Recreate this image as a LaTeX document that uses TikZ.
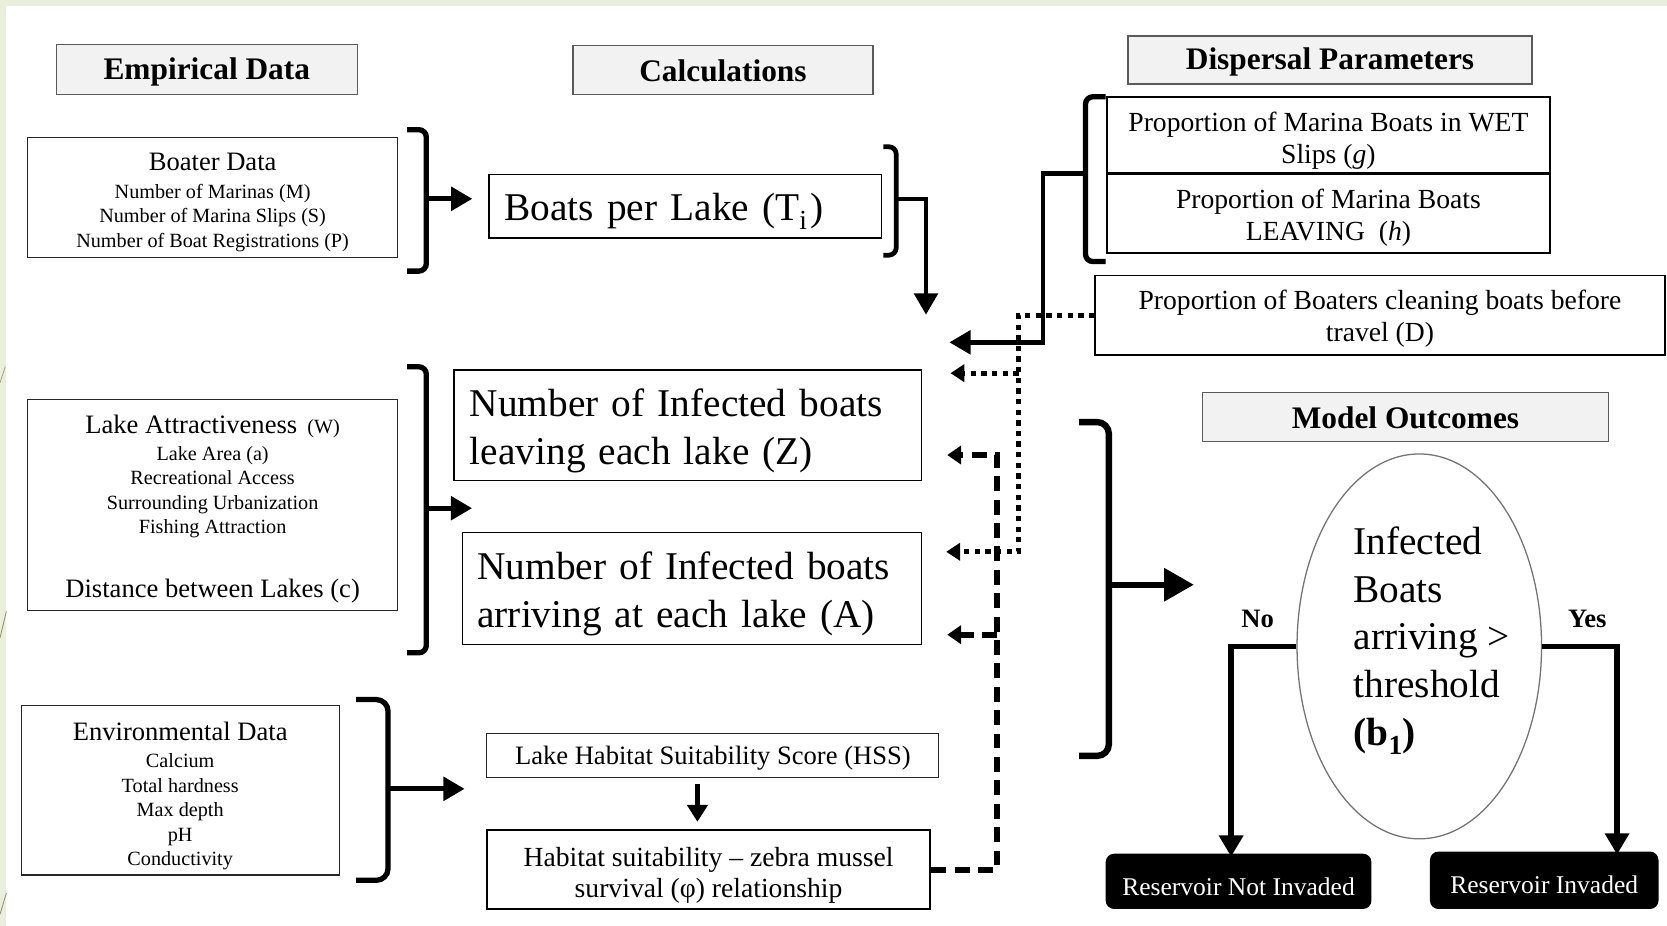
\documentclass[tikz,border=0pt]{standalone}
\usepackage{fontspec}
\setmainfont{Liberation Serif}
\usetikzlibrary{arrows.meta,shapes.geometric}
\newcommand{\fsz}[2]{\fontsize{#1}{#2}\selectfont}
\definecolor{strip}{HTML}{E9EFDA}
\definecolor{hdrfill}{HTML}{F2F2F2}
\definecolor{hdrline}{HTML}{5A5A5A}
\definecolor{twig}{HTML}{9A8F6A}
\begin{document}
\begin{tikzpicture}[x=1pt,y=-1pt,
  hdr/.style={draw=hdrline, fill=hdrfill, line width=1.3pt, inner sep=0pt},
  hdrtxt/.style={inner sep=0pt, font=\fsz{29.5}{34}\bfseries},
  thinbox/.style={draw=black!85, line width=1pt, inner sep=0pt},
  calcbox/.style={draw=black, line width=1.5pt, inner sep=0pt},
  parbox/.style={draw=black, line width=2pt, inner sep=0pt},
  txt/.style={inner sep=0pt, align=center},
  outbox/.style={fill=black, rounded corners=8pt, inner sep=0pt},
  outtxt/.style={text=white, inner sep=0pt, font=\fsz{24}{28}},
  brk/.style={line width=5pt, rounded corners=7pt},
  sarrow/.style={line width=4.5pt, -{Triangle[length=20pt,width=22pt]}},
  dotln/.style={line width=5pt, dash pattern=on 5pt off 5pt, -{Triangle[length=13pt,width=16pt]}},
  dashln/.style={line width=5.5pt, dash pattern=on 14pt off 8pt, -{Triangle[length=13pt,width=17pt]}},
  lbl/.style={font=\fsz{25}{28}\bfseries, inner sep=0pt}
]
\useasboundingbox (0,0) rectangle (1568,871);
\fill[white] (0,0) rectangle (1568,871);
\fill[strip] (0,0) rectangle (1568,6);
\fill[strip] (0,0) rectangle (6,871);
\draw[twig, line width=0.8pt] (0,600) -- (6,575);
\draw[twig, line width=0.8pt] (0,860) -- (6,840);
\draw[twig, line width=0.6pt] (0,360) -- (5,345);

% headers
\node[hdr, minimum width=283pt, minimum height=47pt] (emp) at (194.5,65.5) {};
\node[hdrtxt] (empt) at ([yshift=-2pt]emp.center) {Empirical Data};
\node[hdr, minimum width=282pt, minimum height=46pt] (calc) at (680,66) {};
\node[hdrtxt] (calct) at ([yshift=-1pt]calc.center) {Calculations};
\node[hdr, minimum width=380pt, minimum height=45pt] (disp) at (1251,56.5) {};
\node[hdrtxt] (dispt) at ([yshift=-2pt]disp.center) {Dispersal Parameters};
\node[hdr, minimum width=382pt, minimum height=46pt] (model) at (1322,392) {};
\node[hdrtxt] (modelt) at ([yshift=-1pt]model.center) {Model Outcomes};

% empirical data boxes
\node[thinbox, minimum width=348pt, minimum height=113pt] (boater) at (200,185.5) {};
\node[txt, font=\fsz{19}{23}] (boatert) at ([yshift=-5pt]boater.center)
  {{\fsz{25}{28}Boater Data}\\[3pt] Number of Marinas (M)\\ Number of Marina Slips (S)\\ Number of Boat Registrations (P)};
\node[thinbox, minimum width=348pt, minimum height=198pt] (lake) at (200,475) {};
\node[txt, font=\fsz{19}{23}] (laket) at ([yshift=-4pt]lake.center)
  {{\fsz{25}{28}Lake Attractiveness}\ \ (W)\\[2pt] Lake Area (a)\\ Recreational Access\\ Surrounding Urbanization\\ Fishing Attraction\\[37pt] {\fsz{25}{28}Distance between Lakes (c)}};
\node[thinbox, minimum width=299pt, minimum height=159pt] (env) at (169.5,743.5) {};
\node[txt, font=\fsz{19}{23}] (envt) at ([yshift=-5pt]env.center)
  {{\fsz{25}{28}Environmental Data}\\[3pt] Calcium\\ Total hardness\\ Max depth\\ pH\\ Conductivity};

% calculation boxes
\node[calcbox, minimum width=369pt, minimum height=60pt] (boats) at (644.5,194) {};
\node[txt, align=left, text width=340pt, font=\fsz{37}{44}] (boatst) at ([yshift=-5pt]boats.center)
  {Boats per Lake (T\textsubscript{i}\kern3pt)};
\node[calcbox, line width=1.3pt, minimum width=440pt, minimum height=104pt] (leave) at (647,400) {};
\node[txt, align=left, text width=410pt, font=\fsz{37}{45}] (leavet) at ([yshift=-5pt]leave.center)
  {Number of Infected boats\\ leaving each lake (Z)};
\node[calcbox, line width=1.3pt, minimum width=432pt, minimum height=105pt] (arrive) at (651,553.5) {};
\node[txt, align=left, text width=404pt, font=\fsz{37}{45}] (arrivet) at ([yshift=-5pt]arrive.center)
  {Number of Infected boats\\ arriving at each lake (A)};
\node[thinbox, minimum width=425pt, minimum height=41pt] (hss) at (670.5,710.5) {};
\node[txt, font=\fsz{25}{28}] (hsst) at ([yshift=-3pt]hss.center) {Lake Habitat Suitability Score (HSS)};
\node[thinbox, line width=2pt, draw=black, minimum width=417pt, minimum height=74pt] (hab) at (666.5,818) {};
\node[txt, font=\fsz{26}{29}] (habt) at ([yshift=-5pt]hab.center)
  {Habitat suitability -- zebra mussel\\ survival (φ) relationship};

% dispersal parameter boxes
\node[parbox, minimum width=417pt, minimum height=72pt] (wet) at (1249.5,127) {};
\node[txt, font=\fsz{26}{30}] (wett) at ([yshift=-5pt]wet.center) {Proportion of Marina Boats in WET\\ Slips (\textit{g})};
\node[parbox, minimum width=417pt, minimum height=74pt] (leav) at (1249.5,201) {};
\node[txt, font=\fsz{26}{30}] (leavt) at ([yshift=-4pt]leav.center) {Proportion of Marina Boats\\ LEAVING\ \ (\textit{h})};
\node[parbox, line width=1.5pt, minimum width=536pt, minimum height=75pt] (clean) at (1298,296.5) {};
\node[txt, font=\fsz{26}{30}] (cleant) at ([yshift=-3pt]clean.center) {Proportion of Boaters cleaning boats before\\ travel (D)};

% model outcomes
\node[draw=black!55, line width=1.2pt, ellipse, minimum width=230pt, minimum height=362pt, inner sep=0pt] (ell) at (1335,608) {};
\node[anchor=north west, inner sep=0pt, align=left, font=\fsz{37}{45}] (elltxt) at (1273,495)
  {Infected\\ Boats\\ arriving >\\ threshold\\ \textbf{(b\textsubscript{1})}};
\node[outbox, minimum width=250pt, minimum height=52pt] (notinv) at (1165,829) {};
\node[outtxt] (notinvt) at ([yshift=-5pt]notinv.center) {Reservoir Not Invaded};
\node[outbox, minimum width=215pt, minimum height=54pt] (inv) at (1452.5,828) {};
\node[outtxt] (invt) at ([yshift=-4pt]inv.center) {Reservoir Invaded};
\node[lbl] (no) at (1183,582) {No};
\node[lbl] (yes) at (1493,582) {Yes};

% brackets
\draw[brk] (383,122) -- (401,122) -- (401,255) -- (383,255);
\coordinate (bk1m) at (401,187);
\draw[brk] (383,345) -- (401,345) -- (401,614) -- (383,614);
\coordinate (bk2m) at (401,478);
\coordinate (bk2tip) at (444,478);
\draw[brk, rounded corners=11pt] (335,658) -- (365,658) -- (365,828) -- (335,828);
\coordinate (bk3m) at (365,742);
\coordinate (bk3tip) at (437,742);
\draw[brk, line width=4.5pt] (831,138) -- (843,138) -- (843,240) -- (831,240);
\coordinate (bk4m) at (843,187);
\coordinate (bk4c) at (871,187);
\coordinate (bk4tip) at (871,296);
\draw[brk] (1040,91) -- (1021,91) -- (1021,246) -- (1040,246);
\coordinate (dbm) at (1021,163);
\coordinate (solidc) at (981,322);
\coordinate (solidtip) at (893,322);
\draw[brk, line width=6pt, rounded corners=11pt] (1015,397) -- (1043,397) -- (1043,711) -- (1015,711);
\coordinate (bk5m) at (1043,550);
\coordinate (bk5tip) at (1123,550);

% solid arrows
\draw[sarrow] (bk1m) -- (bk1m -| boats.west) [shorten >=15pt];
\draw[sarrow] (bk2m) -- (bk2tip);
\draw[sarrow] (bk3m) -- (bk3tip);
\draw[sarrow, line width=4pt] (bk4m) -- (bk4c) -- (bk4tip);
\draw[sarrow, line width=4.5pt] (dbm) -| (solidc) -- (solidtip);
\coordinate (hssa) at (656,737);
\coordinate (hssb) at (656,773);
\draw[sarrow, line width=4pt, -{Triangle[length=16pt,width=19pt]}] (hssa) -- (hssb);
\draw[sarrow, line width=6pt, -{Triangle[length=28pt,width=30pt]}] (bk5m) -- (bk5tip);
\draw[sarrow, line width=5pt] (ell.west) -| ([xshift=-7pt,yshift=-3pt]notinv.north);
\draw[sarrow, line width=5pt] (ell.east) -| ([xshift=68.5pt,yshift=-3pt]inv.north);

% dotted (cleaning) connectors
\coordinate (dotv) at (958,519);
\coordinate (dottip2) at (890,519);
\coordinate (dotb) at (958,351);
\coordinate (dottip1) at (894,351);
\draw[dotln] (clean.west) -| (dotv) -- (dottip2);
\draw[dotln] (dotb) -- (dottip1);

% dashed (habitat) connectors
\coordinate (dashv) at (938,428);
\coordinate (dashtip1) at (891,428);
\coordinate (dashb) at (938,597);
\coordinate (dashtip2) at (891,597);
\draw[dashln] (hab.east) -| (dashv) -- (dashtip1);
\draw[dashln] (dashb) -- (dashtip2);
\end{tikzpicture}
\end{document}
